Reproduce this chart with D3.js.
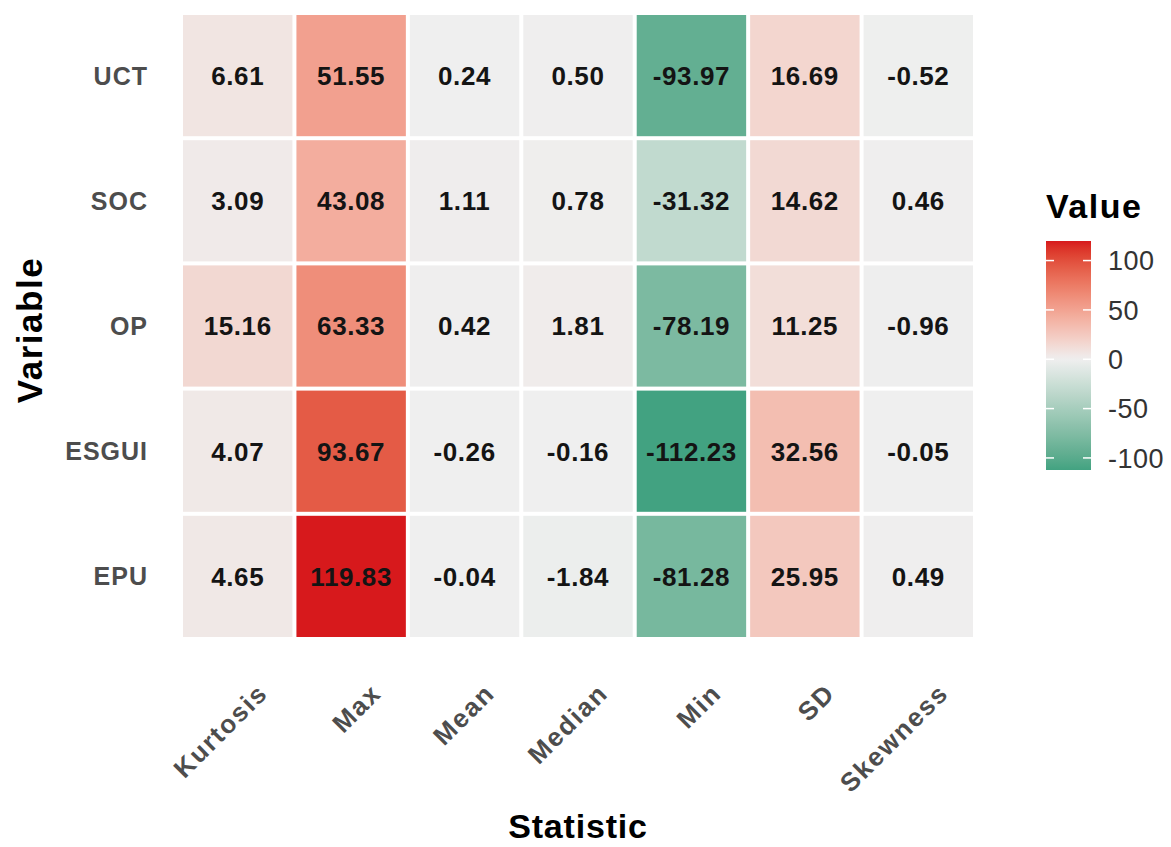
<!DOCTYPE html>
<html>
<head>
<meta charset="utf-8">
<script src="https://cdn.jsdelivr.net/npm/d3@7"></script>
<style>
  html, body { margin: 0; padding: 0; background: #fff; }
  svg { display: block; font-family: "Liberation Sans", Arial, sans-serif; }
</style>
</head>
<body>
<svg id="chart" width="1171" height="847"></svg>
<script>
// Descriptive statistics per variable
const variables = ["UCT", "SOC", "OP", "ESGUI", "EPU"];
const statistics = ["Kurtosis", "Max", "Mean", "Median", "Min", "SD", "Skewness"];

const uctValues   = [6.61, 51.55, 0.24, 0.50, -93.97, 16.69, -0.52];
const socValues   = [3.09, 43.08, 1.11, 0.78, -31.32, 14.62, 0.46];
const opValues    = [15.16, 63.33, 0.42, 1.81, -78.19, 11.25, -0.96];
const esguiValues = [4.07, 93.67, -0.26, -0.16, -112.23, 32.56, -0.05];
const epuValues   = [4.65, 119.83, -0.04, -1.84, -81.28, 25.95, 0.49];

const legendTicks = [100, 50, 0, -50, -100];

const rows = [uctValues, socValues, opValues, esguiValues, epuValues];
const cells = [];
variables.forEach((v, i) => {
  statistics.forEach((s, j) => {
    cells.push({ variable: v, statistic: s, value: rows[i][j] });
  });
});

const svg = d3.select("#chart");

const x = d3.scaleBand().domain(statistics).range([181, 975]).padding(0);
const y = d3.scaleBand().domain(variables).range([13, 639]).padding(0);

// Diverging fill: low -> mid -> high, midpoint at zero
const lowColor = "#329d7a", midColor = "#efefef", highColor = "#d7191c";
const allValues = cells.map(d => d.value);
const vMin = d3.min(allValues), vMax = d3.max(allValues);
const maxAbs = Math.max(Math.abs(vMin), Math.abs(vMax));
const ramp = d3.scaleLinear()
  .domain([0, 0.5, 1])
  .range([lowColor, midColor, highColor])
  .interpolate(d3.interpolateLab);
const fill = v => ramp(0.5 + v / (2 * maxAbs));

const gap = 2;

// Tiles
svg.append("g").selectAll("rect")
  .data(cells)
  .join("rect")
  .attr("x", d => x(d.statistic) + gap)
  .attr("y", d => y(d.variable) + gap)
  .attr("width", x.bandwidth() - 2 * gap)
  .attr("height", y.bandwidth() - 2 * gap)
  .attr("fill", d => fill(d.value));

// Values inside tiles
svg.append("g").selectAll("text")
  .data(cells)
  .join("text")
  .attr("x", d => x(d.statistic) + x.bandwidth() / 2)
  .attr("y", d => y(d.variable) + y.bandwidth() / 2)
  .attr("dy", "0.36em")
  .attr("text-anchor", "middle")
  .attr("font-size", 26)
  .attr("font-weight", "bold")
  .attr("letter-spacing", 0.6)
  .attr("fill", "#141414")
  .text(d => d.value.toFixed(2));

// Y axis labels
svg.append("g").selectAll("text")
  .data(variables)
  .join("text")
  .attr("x", 148)
  .attr("y", d => y(d) + y.bandwidth() / 2)
  .attr("dy", "0.36em")
  .attr("text-anchor", "end")
  .attr("font-size", 25)
  .attr("font-weight", "bold")
  .attr("letter-spacing", 1)
  .attr("fill", "#4d4d4d")
  .text(d => d);

// X axis labels, rotated
svg.append("g").selectAll("text")
  .data(statistics)
  .join("text")
  .attr("transform", d => `translate(${x(d) + x.bandwidth() / 2 + 25},688) rotate(-45)`)
  .attr("dy", "0.36em")
  .attr("text-anchor", "end")
  .attr("font-size", 26)
  .attr("font-weight", "bold")
  .attr("letter-spacing", 1.8)
  .attr("fill", "#4d4d4d")
  .text(d => d);

// Axis titles
svg.append("text")
  .attr("x", (181 + 975) / 2)
  .attr("y", 838)
  .attr("text-anchor", "middle")
  .attr("font-size", 34)
  .attr("font-weight", "bold")
  .attr("letter-spacing", 0.8)
  .attr("fill", "#000")
  .text("Statistic");

svg.append("text")
  .attr("transform", "translate(42,330) rotate(-90)")
  .attr("text-anchor", "middle")
  .attr("font-size", 35)
  .attr("font-weight", "bold")
  .attr("letter-spacing", 1.5)
  .attr("fill", "#000")
  .text("Variable");

// Colour bar legend
const barX = 1046, barW = 45, barTop = 241, barBottom = 470;
const ly = d3.scaleLinear().domain([vMin, vMax]).range([barBottom, barTop]);

const defs = svg.append("defs");
const grad = defs.append("linearGradient")
  .attr("id", "valueGradient")
  .attr("x1", 0).attr("y1", 1).attr("x2", 0).attr("y2", 0);
d3.range(0, 1.0001, 0.02).forEach(t => {
  const v = vMin + t * (vMax - vMin);
  grad.append("stop").attr("offset", t).attr("stop-color", fill(v));
});

svg.append("rect")
  .attr("x", barX).attr("y", barTop)
  .attr("width", barW).attr("height", barBottom - barTop)
  .attr("fill", "url(#valueGradient)");

const tickLen = 8;
const legendTickG = svg.append("g");
legendTicks.forEach(t => {
  legendTickG.append("line")
    .attr("x1", barX).attr("x2", barX + tickLen)
    .attr("y1", ly(t)).attr("y2", ly(t))
    .attr("stroke", "#fff").attr("stroke-width", 1.5);
  legendTickG.append("line")
    .attr("x1", barX + barW - tickLen).attr("x2", barX + barW)
    .attr("y1", ly(t)).attr("y2", ly(t))
    .attr("stroke", "#fff").attr("stroke-width", 1.5);
});

svg.append("g").selectAll("text")
  .data(legendTicks)
  .join("text")
  .attr("x", 1108)
  .attr("y", d => ly(d))
  .attr("dy", "0.36em")
  .attr("font-size", 27)
  .attr("letter-spacing", 0.5)
  .attr("fill", "#333")
  .text(d => d);

svg.append("text")
  .attr("x", 1046)
  .attr("y", 218)
  .attr("font-size", 34)
  .attr("font-weight", "bold")
  .attr("letter-spacing", 1.5)
  .attr("fill", "#000")
  .text("Value");
</script>
</body>
</html>
